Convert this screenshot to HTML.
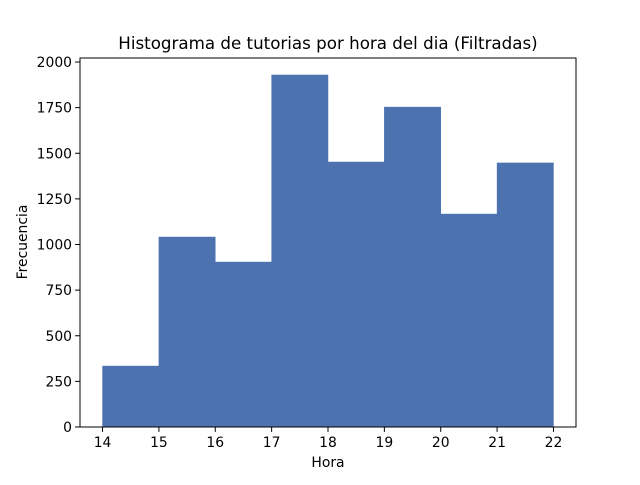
<!DOCTYPE html>
<html><head><meta charset="utf-8"><style>
body{margin:0;background:#fff;}
svg text{font-family:"DejaVu Sans","Liberation Sans",sans-serif;fill:#000;}
</style></head><body>
<svg id="chart" width="640" height="480" viewBox="0 0 640 480">
<rect width="640" height="480" fill="#fff"/>
<text x="328" y="49" font-size="16.7" text-anchor="middle">Histograma de tutorias por hora del dia (Filtradas)</text>
<g id="bars"></g>
<g id="axes"></g>
<text x="328" y="467" font-size="13.9" text-anchor="middle">Hora</text>
<text transform="translate(27,242) rotate(-90)" font-size="13.9" text-anchor="middle">Frecuencia</text>
</svg>
<script>
const binEdges=[14,15,16,17,18,19,20,21,22];
const counts=[334,1041,904,1929,1452,1753,1167,1447];
const xTicks=[14,15,16,17,18,19,20,21,22];
const yTicks=[0,250,500,750,1000,1250,1500,1750,2000];
const L=80,R=576,T=58,B=427,xmin=13.6,xmax=22.4,ymax=2022;
const NS="http://www.w3.org/2000/svg";
function sx(v){return L+(v-xmin)/(xmax-xmin)*(R-L);}
function sy(v){return B-v/ymax*(B-T);}
function mk(t,a,p){const e=document.createElementNS(NS,t);for(const k in a)e.setAttribute(k,a[k]);p.appendChild(e);return e;}
const bars=document.getElementById('bars'),axes=document.getElementById('axes');
counts.forEach((c,i)=>{
 const r=mk('rect',{x:sx(binEdges[i]),y:sy(c),width:sx(binEdges[i+1])-sx(binEdges[i]),height:B-sy(c),fill:'#4c72b0',stroke:'#4c72b0','stroke-width':0.5},bars);
 
 
});
const f=mk('rect',{x:L,y:T,width:R-L,height:B-T,fill:'none',stroke:'#000','stroke-width':1},axes);


xTicks.forEach(v=>{
 const x=sx(v);
 mk('line',{x1:x,x2:x,y1:B,y2:B+4.9,stroke:'#000','stroke-width':1},axes);
 const t=mk('text',{x:x,y:B+20,'font-size':13.9,'text-anchor':'middle'},axes);t.textContent=v;
 
 
});
yTicks.forEach(v=>{
 const y=sy(v);
 mk('line',{x1:L-4.9,x2:L,y1:y,y2:y,stroke:'#000','stroke-width':1},axes);
 const t=mk('text',{x:L-8,y:y+5,'font-size':13.9,'text-anchor':'end'},axes);t.textContent=v;
 
 
});
</script>
</body></html>
